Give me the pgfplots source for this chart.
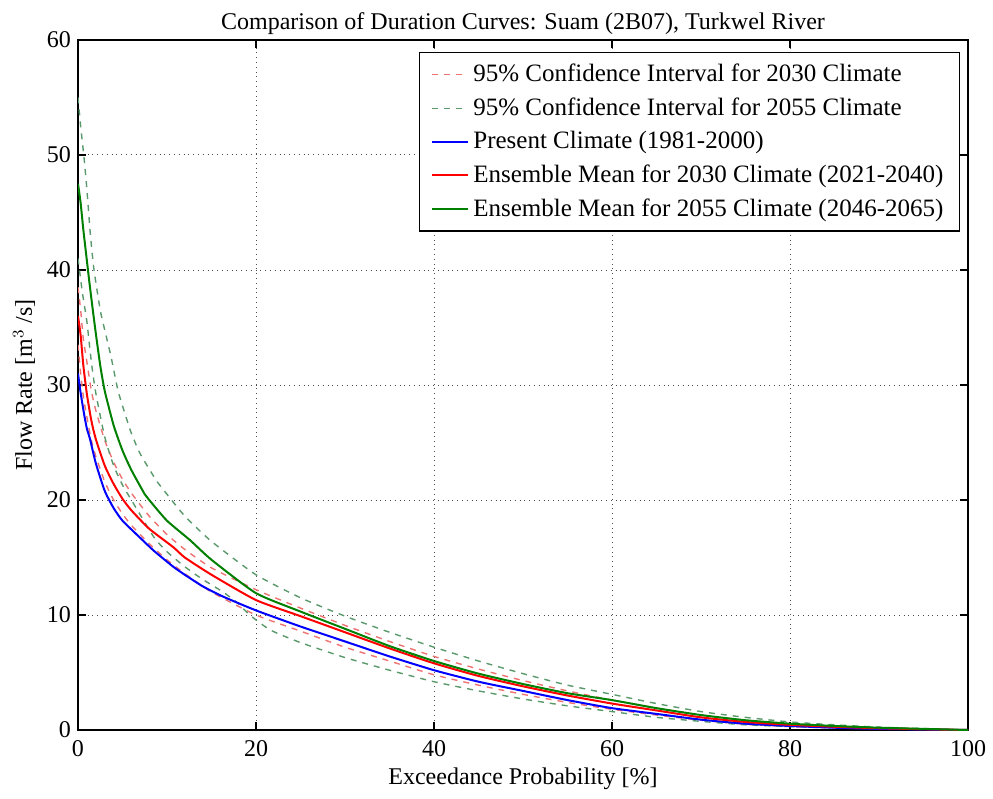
\documentclass[border=0pt]{standalone}
\usepackage{fontspec}
\setmainfont{Liberation Serif}
\usepackage{pgfplots}
\pgfplotsset{compat=1.18}

\definecolor{mgreen}{rgb}{0,0.5,0}
\definecolor{cired}{rgb}{0.93,0.45,0.45}
\definecolor{cigreen}{rgb}{0.35,0.6,0.42}

\begin{document}
\begin{tikzpicture}
\begin{axis}[
  width=445pt, height=345pt, scale only axis,
  xmin=0, xmax=100, ymin=0, ymax=60,
  xtick={0,20,...,100}, ytick={0,10,...,60},
  tick align=inside, major tick length=4pt,
  axis line style={line width=0.9pt},
  every tick/.style={black, line width=0.6pt},
  grid=major,
  major grid style={black!70, dotted, line width=0.5pt},
  /pgf/number format/assume math mode=true,
  tick label style={font=\fontsize{12}{14}\selectfont},
  xticklabel style={yshift=-1.5pt},
  label style={font=\fontsize{12}{14}\selectfont},
  xlabel style={yshift=1pt},
  ylabel style={yshift=-1pt},
  title style={font=\fontsize{12}{14}\selectfont, yshift=-7pt},
  title={Comparison of Duration Curves: Suam (2B07), Turkwel River},
  xlabel={Exceedance Probability [\%]},
  ylabel={Flow Rate [m$^{3}$ /s]},
  legend style={at={(0.991,0.983)}, anchor=north east, draw=black,
    line width=0.6pt, font=\fontsize{12.5}{15}\selectfont, cells={anchor=west},
    row sep=2.5pt, inner xsep=6pt, inner ysep=4pt},
  legend image code/.code={\draw[#1] (0pt,0pt) -- (18pt,0pt);},
  dashpat/.style={dash pattern=on 3pt off 3pt, line width=0.7pt},
  every axis plot/.append style={smooth, tension=0.35},
]
% 95% CI for 2030 climate (upper and lower)
\addplot[cired, dashpat] coordinates {
(0,38.5)(0.3,36.5)(0.6,34)(1,32)(1.5,29.5)(2,27.8)(3,25.2)(4,23.3)(5,21.8)(6,20.6)(8,18.6)(10,17.0)(12,15.7)(15,14.1)(20,12.2)(25,10.6)(30,9.1)(35,7.7)(40,6.4)(45,5.3)(50,4.3)(55,3.4)(60,2.6)(65,1.9)(70,1.3)(75,0.85)(80,0.5)(85,0.3)(90,0.17)(95,0.08)(100,0)
};
\addlegendentry{95\% Confidence Interval for 2030 Climate}
% 95% CI for 2055 climate (upper)
\addplot[cigreen, dashpat] coordinates {
(0,55)(0.3,52.5)(0.7,49.6)(1,47)(1.4,43)(1.8,40)(2.5,36.5)(3,34.8)(3.7,32.5)(4.5,29.5)(5.4,27.2)(6,25.8)(7,24)(8.8,21.7)(10,20.5)(12,18.6)(15,16.4)(20,13.5)(25,11.5)(30,9.9)(35,8.5)(40,7.2)(45,6.0)(50,4.9)(55,3.9)(60,3.1)(65,2.3)(70,1.6)(75,1.1)(80,0.7)(85,0.45)(90,0.25)(95,0.12)(100,0)
};
\addlegendentry{95\% Confidence Interval for 2055 Climate}
\addplot[cired, dashpat, forget plot] coordinates {
(0,33.5)(0.3,31)(0.6,29)(1,27.2)(1.5,25.2)(2,23.8)(3,21.6)(4,20.0)(5,18.8)(6,17.8)(8,16.2)(10,14.8)(12,13.6)(15,12.0)(20,10.0)(25,8.6)(30,7.2)(35,6.0)(40,4.8)(45,3.9)(50,3.1)(55,2.4)(60,1.8)(65,1.3)(70,0.85)(75,0.5)(80,0.3)(85,0.18)(90,0.1)(95,0.05)(100,0)
};
\addplot[cigreen, dashpat, forget plot] coordinates {
(0,41)(0.5,38)(1,35.5)(1.5,32)(2,29.3)(3,25.5)(4,23)(5,21.3)(6,20)(8.5,16.8)(10,15.5)(12,14.2)(14,13.1)(16.3,12.0)(18,11)(19.3,10.0)(21.6,8.7)(25,7.6)(30,6.3)(35,5.2)(40,4.2)(45,3.4)(50,2.7)(55,2.1)(60,1.6)(65,1.1)(70,0.75)(75,0.45)(80,0.3)(85,0.18)(90,0.1)(95,0.05)(100,0)
};
% present climate
\addplot[blue, line width=1pt] coordinates {
(0,31)(0.3,29.3)(0.7,27.4)(1,26.2)(1.35,25.3)(2,23.2)(3,20.8)(4,19.3)(5,18.2)(7,16.7)(8.5,15.6)(10.7,14.2)(12,13.5)(14,12.5)(16.3,11.6)(20,10.4)(25,9.0)(30,7.7)(35,6.4)(40,5.2)(45,4.2)(50,3.4)(55,2.6)(60,1.9)(65,1.4)(70,0.9)(75,0.55)(80,0.35)(85,0.2)(90,0.1)(95,0.05)(100,0)
};
\addlegendentry{Present Climate (1981-2000)}
% ensemble mean 2030
\addplot[red, line width=1pt] coordinates {
(0,36)(0.3,34.3)(0.6,31.7)(1,29.2)(1.5,26.9)(2,25.3)(3,23)(4,21.4)(5,20.1)(6,19.1)(8,17.5)(10.7,15.9)(12,15.0)(15,13.5)(20,11.3)(25,9.9)(30,8.5)(35,7.1)(40,5.8)(45,4.7)(50,3.8)(55,3.0)(60,2.3)(65,1.7)(70,1.1)(75,0.7)(80,0.45)(85,0.28)(90,0.15)(95,0.07)(100,0)
};
\addlegendentry{Ensemble Mean for 2030 Climate (2021-2040)}
% ensemble mean 2055
\addplot[mgreen, line width=1pt] coordinates {
(0,47.5)(0.3,45.8)(0.6,43.5)(1,40.8)(1.3,38.8)(1.7,36.3)(2,34.5)(2.5,31.7)(3,29.5)(4,26.5)(5,24.3)(6,22.6)(7.5,20.5)(8,20.0)(10,18.2)(12.6,16.5)(15,14.8)(20,11.9)(25,10.3)(30,8.8)(35,7.3)(40,6.0)(45,4.9)(50,4.0)(55,3.2)(60,2.6)(65,1.9)(70,1.3)(75,0.85)(80,0.55)(85,0.35)(90,0.2)(95,0.1)(100,0)
};
\addlegendentry{Ensemble Mean for 2055 Climate (2046-2065)}
\end{axis}
\path (current axis.south west) ++(-39pt,-34pt) coordinate (bbsw);
\path (current axis.north east) ++(12.5pt,20pt) coordinate (bbne);
\useasboundingbox (bbsw) rectangle (bbne);
\end{tikzpicture}
\end{document}
